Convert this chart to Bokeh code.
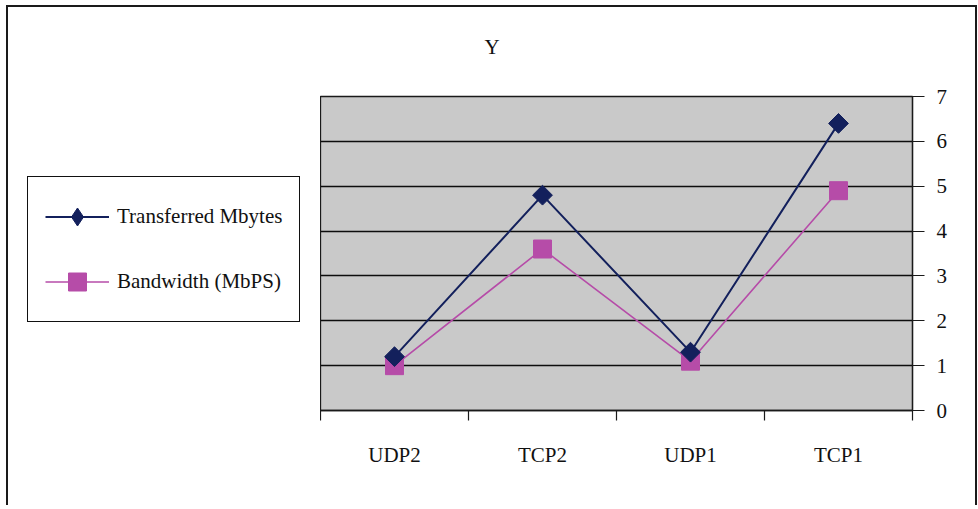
import math
from bokeh.plotting import figure
from bokeh.layouts import row
from bokeh.models import (Range1d, LinearAxis, FixedTicker, Legend, LegendItem,
                          Title, ColumnDataSource)
from bokeh.embed import file_html
from bokeh.resources import INLINE

categories = ["UDP2", "TCP2", "UDP1", "TCP1"]
transferred = [1.2, 4.8, 1.3, 6.4]
bandwidth = [1.0, 3.6, 1.1, 4.9]
y_ticks = [0, 1, 2, 3, 4, 5, 6, 7]
series_names = ["Transferred Mbytes", "Bandwidth (MbPS)"]
title_text = "Y"

FONT = "Liberation Serif"
NAVY = "#13205c"
MAGENTA = "#b64ca8"
DARK = "#1a1a1a"

xpos = [i + 0.5 for i in range(len(categories))]
src = ColumnDataSource(dict(x=xpos, t=transferred, b=bandwidth))

# ---------------- main chart ----------------
p = figure(width=655, height=498, output_backend="svg", toolbar_location=None,
           x_range=Range1d(0, len(categories)), y_range=Range1d(0, 7),
           x_axis_location=None, y_axis_location=None,
           min_border_left=0, min_border_right=63, min_border_top=89,
           min_border_bottom=95)

p.background_fill_color = "#c9c9c9"
p.border_fill_color = "white"
p.outline_line_color = "#1a1a1a"
p.outline_line_width = 1.3

p.xgrid.visible = False
p.ygrid.ticker = FixedTicker(ticks=y_ticks)
p.ygrid.grid_line_color = "#0d0d0d"
p.ygrid.grid_line_width = 1.3

xaxis = LinearAxis(ticker=FixedTicker(ticks=xpos, minor_ticks=list(range(len(categories) + 1))),
                   major_label_overrides={x: c for x, c in zip(xpos, categories)})
xaxis.major_tick_in = 0
xaxis.major_tick_out = 0
xaxis.minor_tick_in = 0
xaxis.minor_tick_out = 10
xaxis.minor_tick_line_color = "#1a1a1a"
xaxis.minor_tick_line_width = 1.2
xaxis.axis_line_color = "#1a1a1a"
xaxis.axis_line_width = 1.3
xaxis.major_label_standoff = 22
xaxis.major_label_text_font = FONT
xaxis.major_label_text_font_size = "21px"
xaxis.major_label_text_color = "#111111"
p.add_layout(xaxis, "below")

yaxis = LinearAxis(ticker=FixedTicker(ticks=y_ticks))
yaxis.major_tick_in = 0
yaxis.major_tick_out = 12
yaxis.minor_tick_line_color = None
yaxis.major_tick_line_color = "#1a1a1a"
yaxis.major_tick_line_width = 1.2
yaxis.axis_line_color = "#1a1a1a"
yaxis.axis_line_width = 1.3
yaxis.major_label_standoff = 12
yaxis.major_label_text_font = FONT
yaxis.major_label_text_font_size = "21px"
yaxis.major_label_text_color = "#111111"
p.add_layout(yaxis, "right")

p.line("x", "t", source=src, line_color=NAVY, line_width=2)
p.line("x", "b", source=src, line_color=MAGENTA, line_width=1.6)
p.scatter("x", "b", source=src, marker="square", size=18,
          fill_color=MAGENTA, line_color=MAGENTA)
p.scatter("x", "t", source=src, marker="square", size=14, angle=math.pi / 4,
          fill_color=NAVY, line_color=NAVY)

# spacer between the frame and the title text, then the title itself
spacer = Title(text=" ", standoff=12, text_font=FONT, text_font_size="21px")
p.add_layout(spacer, "above")
title = Title(text=title_text, align="left", offset=164, standoff=0,
              text_font=FONT, text_font_size="21px", text_font_style="normal",
              text_color="#111111")
p.add_layout(title, "above")

# ---------------- legend panel (left of chart) ----------------
lg = figure(width=312, height=498, output_backend="svg", toolbar_location=None,
            x_range=Range1d(0, 1), y_range=Range1d(0, 1),
            x_axis_location=None, y_axis_location=None,
            min_border_left=0, min_border_right=0, min_border_top=0,
            min_border_bottom=0)
lg.outline_line_color = None
lg.background_fill_color = "white"
lg.border_fill_color = "white"
lg.xgrid.visible = False
lg.ygrid.visible = False

ll1 = lg.line("x", "t", source=src, line_color=NAVY, line_width=2, visible=False)
ld1 = lg.scatter("x", "t", source=src, marker="diamond", size=20,
                 fill_color=NAVY, line_color=NAVY, visible=False)
ll2 = lg.line("x", "b", source=src, line_color=MAGENTA, line_width=1.6, visible=False)
ls2 = lg.scatter("x", "b", source=src, marker="square", size=18,
                 fill_color=MAGENTA, line_color=MAGENTA, visible=False)

legend = Legend(items=[LegendItem(label=series_names[0], renderers=[ll1, ld1]),
                       LegendItem(label=series_names[1], renderers=[ll2, ls2])],
                location=(19, 88))
legend.glyph_width = 64
legend.glyph_height = 45
legend.label_height = 45
legend.spacing = 20
legend.padding = 17
legend.margin = 0
legend.label_standoff = 8
legend.label_text_font = FONT
legend.label_text_font_size = "21px"
legend.label_text_color = "#111111"
legend.border_line_color = "#111111"
legend.border_line_alpha = 1.0
legend.border_line_width = 1.5
legend.background_fill_color = "white"
legend.background_fill_alpha = 1.0
lg.add_layout(legend, "center")

layout = row(lg, p, spacing=0)
layout.styles = {"margin-left": "6px", "margin-top": "5px",
                 "border-top": "2px solid " + DARK, "border-left": "2px solid " + DARK,
                 "border-right": "2px solid " + DARK}

open("out.html", "w").write(file_html(layout, INLINE))
